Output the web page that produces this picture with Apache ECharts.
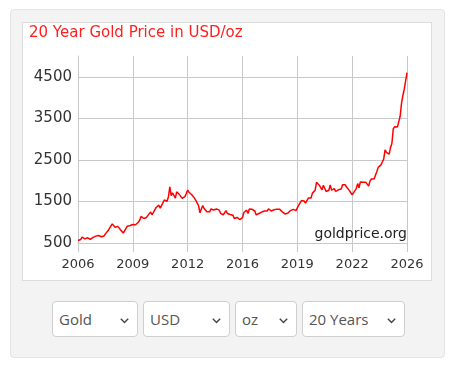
<!DOCTYPE html>
<html>
<head>
<meta charset="utf-8">
<script src="https://cdn.jsdelivr.net/npm/echarts@6/dist/echarts.min.js"></script>
<style>
  html, body { margin:0; padding:0; background:#fff; width:457px; height:370px; overflow:hidden; }
  #panel { position:absolute; left:10px; top:9px; width:433px; height:347px; background:#f3f3f3; border:1px solid #e4e4e4; border-radius:4px; }
  #box { position:absolute; left:22px; top:22px; width:408px; height:257px; background:#fff; border:1px solid #dcdcdc; }
  .sel { position:absolute; top:301px; height:34px; background:#fff; border:1px solid #cfcfcf; border-radius:4px;
         font-family:"Open Sans", sans-serif; font-size:15px; color:#555; line-height:34px; box-sizing:content-box; }
  .sel span { position:absolute; left:6px; top:0; }
  .sel svg { position:absolute; right:8px; top:16px; }
  #chart { position:absolute; left:0; top:0; width:457px; height:370px; }
</style>
</head>
<body>
<div id="panel"></div>
<div id="box"></div>
<div id="selects"></div>
<div id="chart"></div>
<script>
// ---- data ----
const startYear = 2006;
const monthsPerTick = 40;
const xTickLabels = ['2006', '2009', '2012', '2016', '2019', '2022', '2026'];
const yTickValues = [500, 1500, 2500, 3500, 4500];
const yMin = 500;
const yMax = 5000;
const titleText = '20 Year Gold Price in USD/oz';
const watermark = 'goldprice.org';
const selectLabels = ['Gold', 'USD', 'oz', '20 Years'];

// monthly gold price (USD/oz), Jan 2006 .. Jan 2026
const p2006 = [560, 575, 585, 640, 655, 600, 640, 625, 600, 590, 630, 635];
const p2007 = [640, 665, 660, 680, 665, 650, 665, 670, 720, 760, 800, 830];
const p2008 = [910, 960, 930, 880, 890, 900, 920, 820, 830, 740, 760, 850];
const p2009 = [905, 950, 920, 890, 945, 930, 940, 955, 1000, 1050, 1140, 1110];
const p2010 = [1090, 1115, 1115, 1165, 1205, 1245, 1180, 1235, 1295, 1355, 1385, 1410];
const p2011 = [1335, 1405, 1435, 1535, 1525, 1505, 1620, 1850, 1640, 1710, 1745, 1580];
const p2012 = [1730, 1745, 1665, 1660, 1575, 1605, 1615, 1690, 1775, 1720, 1710, 1660];
const p2013 = [1670, 1580, 1600, 1460, 1390, 1225, 1320, 1400, 1330, 1320, 1250, 1210];
const p2014 = [1250, 1320, 1290, 1295, 1250, 1320, 1290, 1290, 1215, 1170, 1180, 1200];
const p2015 = [1280, 1210, 1180, 1185, 1190, 1170, 1090, 1135, 1115, 1140, 1065, 1055];
const p2016 = [1110, 1235, 1230, 1290, 1210, 1320, 1350, 1310, 1320, 1270, 1175, 1150];
const p2017 = [1210, 1250, 1245, 1270, 1270, 1240, 1270, 1320, 1280, 1270, 1275, 1300];
const p2018 = [1340, 1315, 1325, 1315, 1300, 1250, 1225, 1200, 1190, 1215, 1220, 1280];
const p2019 = [1320, 1310, 1290, 1280, 1300, 1410, 1430, 1520, 1480, 1510, 1460, 1520];
const p2020 = [1580, 1600, 1580, 1700, 1730, 1770, 1960, 1970, 1890, 1880, 1780, 1890];
const p2021 = [1850, 1740, 1710, 1770, 1900, 1770, 1810, 1810, 1740, 1780, 1780, 1810];
const p2022 = [1800, 1900, 1940, 1900, 1840, 1810, 1760, 1710, 1660, 1635, 1760, 1810];
const p2023 = [1930, 1830, 1970, 1990, 1960, 1920, 1960, 1940, 1870, 1990, 2040, 2060];
const p2024 = [2040, 2040, 2220, 2320, 2340, 2380, 2450, 2520, 2740, 2680, 2660, 2640];
const p2025 = [2800, 2900, 3250, 3300, 3300, 3290, 3310, 3550, 3860, 4050, 4200, 4400];
const p2026 = [4600];

const prices = [].concat(p2006, p2007, p2008, p2009, p2010, p2011, p2012, p2013, p2014,
  p2015, p2016, p2017, p2018, p2019, p2020, p2021, p2022, p2023, p2024, p2025, p2026);
const seriesData = prices.map((v, i) => [i, v]);

// ---- dropdown boxes (HTML) ----
const selGeom = [[52, 84], [143, 85], [235, 60], [302, 101]];
const selWrap = document.getElementById('selects');
selectLabels.forEach((t, i) => {
  const d = document.createElement('div');
  d.className = 'sel';
  d.style.left = selGeom[i][0] + 'px';
  d.style.width = selGeom[i][1] + 'px';
  d.innerHTML = '<span>' + t + '</span>' +
    '<svg width="9" height="6" viewBox="0 0 9 6"><polyline points="0.8,0.8 4.5,4.6 8.2,0.8" fill="none" stroke="#444" stroke-width="1.4"/></svg>';
  selWrap.appendChild(d);
});

// ---- chart ----
const chart = echarts.init(document.getElementById('chart'), null, { renderer: 'canvas' });
chart.setOption({
  backgroundColor: 'transparent',
  animation: false,
  title: {
    text: titleText,
    left: 29,
    top: 26,
    padding: 0,
    textStyle: { color: '#ff1e1e', fontSize: 15, fontWeight: 'normal', fontFamily: 'DejaVu Sans' }
  },
  grid: { left: 78, top: 56, width: 329, height: 187, containLabel: false },
  xAxis: {
    type: 'value',
    min: 0,
    max: monthsPerTick * (xTickLabels.length - 1),
    interval: monthsPerTick,
    axisLine: { show: true, lineStyle: { color: '#c8c8c8', width: 1 } },
    axisTick: { show: true, length: 9, lineStyle: { color: '#c8c8c8' } },
    axisLabel: {
      margin: 15,
      color: '#333',
      fontSize: 13,
      fontFamily: 'DejaVu Sans',
      formatter: v => xTickLabels[Math.round(v / monthsPerTick)] || ''
    },
    splitLine: { show: true, lineStyle: { color: '#c8c8c8', width: 1 } }
  },
  yAxis: {
    type: 'value',
    min: yMin,
    max: yMax,
    interval: 1000,
    axisLine: { show: true, lineStyle: { color: '#c8c8c8', width: 1 } },
    axisTick: { show: false },
    axisLabel: {
      margin: 6,
      color: '#333',
      fontSize: 15,
      fontFamily: 'DejaVu Sans',
      showMaxLabel: false,
      formatter: v => (yTickValues.indexOf(v) >= 0 ? String(v) : '')
    },
    splitLine: { show: true, showMaxLine: false, lineStyle: { color: '#c8c8c8', width: 1 } }
  },
  graphic: [{
    type: 'text',
    right: 50,
    top: 227,
    z: 10,
    style: { text: watermark, font: '14px "DejaVu Sans"', fill: '#222' }
  }],
  series: [{
    type: 'line',
    data: seriesData,
    showSymbol: false,
    symbol: 'none',
    lineStyle: { color: '#ff0000', width: 1.5 },
    z: 5
  }]
});
</script>
</body>
</html>
